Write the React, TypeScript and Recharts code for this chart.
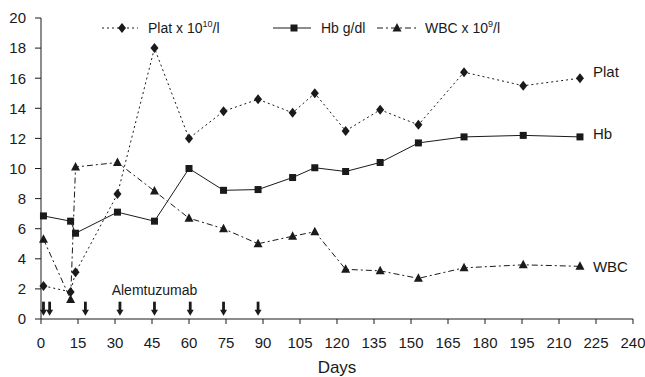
import { ComposedChart, Line, Scatter, XAxis, YAxis, LabelList } from "recharts"

const days = [1, 12, 14, 31, 46, 60, 74, 88, 102, 111, 123.5, 137.5, 153, 171.5, 195.5, 218.5]
const plat = [2.2, 1.8, 3.1, 8.3, 18, 12, 13.8, 14.6, 13.7, 15, 12.5, 13.9, 12.9, 16.4, 15.5, 16]
const hb = [6.85, 6.5, 5.7, 7.1, 6.5, 10, 8.55, 8.6, 9.4, 10.05, 9.8, 10.4, 11.7, 12.1, 12.2, 12.1]
const wbc = [5.3, 1.3, 10.1, 10.4, 8.5, 6.7, 6.0, 5.0, 5.5, 5.8, 3.3, 3.2, 2.7, 3.4, 3.6, 3.5]

const doseDays = [1, 3.5, 18, 32, 46, 60.5, 74, 88]
const doseLevel = 1.15

const xTicks = [0, 15, 30, 45, 60, 75, 90, 105, 120, 135, 150, 165, 180, 195, 210, 225, 240]
const yTicks = [0, 2, 4, 6, 8, 10, 12, 14, 16, 18, 20]

const data = days.map((d, i) => ({ day: d, plat: plat[i], hb: hb[i], wbc: wbc[i] }))
const doses = doseDays.map((d) => ({ day: d, v: doseLevel }))
const doseLabel = [{ day: 46, v: 1.9 }]

const font = "'Liberation Sans', Arial, sans-serif"
const ink = "#1a1a1a"
const last = days.length - 1

const Diamond = ({ cx, cy }: any) => (
  <polygon points={`${cx},${cy - 5} ${cx + 4},${cy} ${cx},${cy + 5} ${cx - 4},${cy}`} fill={ink} />
)
const Square = ({ cx, cy }: any) => <rect x={cx - 3.5} y={cy - 3.5} width={7} height={7} fill={ink} />
const Triangle = ({ cx, cy }: any) => (
  <polygon points={`${cx},${cy - 5} ${cx + 4.5},${cy + 3.5} ${cx - 4.5},${cy + 3.5}`} fill={ink} />
)

const Arrow = ({ cx, cy }: any) => (
  <g>
    <line x1={cx} y1={cy} x2={cx} y2={cy + 9} stroke={ink} strokeWidth={2.8} />
    <polygon points={`${cx - 3.5},${cy + 8} ${cx + 3.5},${cy + 8} ${cx},${cy + 14}`} fill={ink} />
  </g>
)

const TextMark = ({ cx, cy }: any) => (
  <text x={cx} y={cy + 5} textAnchor="middle" fontSize={14} fontFamily={font} fill={ink}>
    Alemtuzumab
  </text>
)

const endLabel = (name: string, dy: number) => (props: any) => {
  const { x, y, index } = props
  if (index !== last) return null
  return (
    <text x={x + 13} y={y + dy} fontSize={15} fontFamily={font} fill={ink}>
      {name}
    </text>
  )
}

function LegendBox() {
  return (
    <svg width={645} height={45} style={{ position: "absolute", left: 0, top: 0 }}>
      <g fontFamily={font} fontSize={14} fill={ink}>
        <line x1={102} y1={28} x2={138} y2={28} stroke={ink} strokeDasharray="2 3" />
        <Diamond cx={122} cy={28} />
        <text x={148} y={33}>
          Plat x 10<tspan dy={-6} fontSize={9}>10</tspan>
          <tspan dy={6}>/l</tspan>
        </text>
        <line x1={273} y1={28} x2={311} y2={28} stroke={ink} />
        <Square cx={294} cy={28} />
        <text x={321} y={33}>Hb g/dl</text>
        <line x1={377} y1={28} x2={418} y2={28} stroke={ink} strokeDasharray="6 3 2 3" />
        <Triangle cx={397} cy={28} />
        <text x={425} y={33}>
          WBC x 10<tspan dy={-6} fontSize={9}>9</tspan>
          <tspan dy={6}>/l</tspan>
        </text>
      </g>
    </svg>
  )
}

export default function App() {
  return (
    <div style={{ position: "absolute", left: 0, top: 0, width: 645, height: 377, background: "#fff" }}>
      <ComposedChart width={645} height={377} data={data} margin={{ top: 18, right: 12, bottom: 0, left: 0 }}>
        <XAxis
          dataKey="day"
          type="number"
          domain={[0, 240]}
          ticks={xTicks}
          interval={0}
          height={58}
          stroke={ink}
          tickSize={5}
          tickMargin={13}
          tick={{ fill: ink, fontSize: 15, fontFamily: font }}
          label={{ value: "Days", position: "insideBottom", offset: 4, fill: ink, fontSize: 17, fontFamily: font }}
        />
        <YAxis
          type="number"
          domain={[0, 20]}
          ticks={yTicks}
          interval={0}
          width={41}
          stroke={ink}
          tickSize={6}
          tickMargin={9}
          tick={{ fill: ink, fontSize: 15, fontFamily: font }}
        />
        <Line
          dataKey="plat"
          stroke={ink}
          strokeWidth={1}
          strokeDasharray="2 3"
          dot={<Diamond />}
          activeDot={false}
          isAnimationActive={false}
        >
          <LabelList dataKey="plat" content={endLabel("Plat", -1)} />
        </Line>
        <Line
          dataKey="hb"
          stroke={ink}
          strokeWidth={1}
          dot={<Square />}
          activeDot={false}
          isAnimationActive={false}
        >
          <LabelList dataKey="hb" content={endLabel("Hb", 2)} />
        </Line>
        <Line
          dataKey="wbc"
          stroke={ink}
          strokeWidth={1}
          strokeDasharray="6 3 2 3"
          dot={<Triangle />}
          activeDot={false}
          isAnimationActive={false}
        >
          <LabelList dataKey="wbc" content={endLabel("WBC", 6)} />
        </Line>
        <Scatter data={doses} dataKey="v" shape={<Arrow />} isAnimationActive={false} />
        <Scatter data={doseLabel} dataKey="v" shape={<TextMark />} isAnimationActive={false} />
      </ComposedChart>
      <LegendBox />
    </div>
  )
}
